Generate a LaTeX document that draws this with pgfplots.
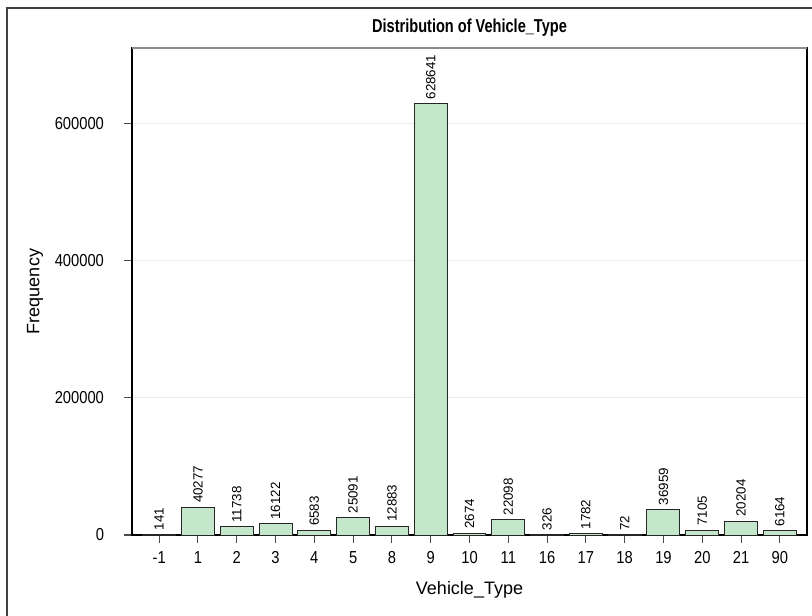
\documentclass[border=0pt]{standalone}
\usepackage{pgfplots}
\pgfplotsset{compat=1.18}
\usepackage{pgfplotstable}
\usepackage{fontspec}
\setmainfont{Liberation Sans}
\newfontfamily\titlefont[FakeStretch=0.78]{Liberation Sans}
\newfontfamily\tickfont[FakeStretch=0.85]{Liberation Sans}
\definecolor{barfill}{RGB}{196,230,202}
\definecolor{framecol}{RGB}{64,64,64}
\pgfplotstableread{
x y lab
0 141 141
1 40277 40277
2 11738 11738
3 16122 16122
4 6583 6583
5 25091 25091
6 12883 12883
7 628641 628641
8 2674 2674
9 22098 22098
10 326 326
11 1782 1782
12 72 72
13 36959 36959
14 7105 7105
15 20204 20204
16 6164 6164
}\datatable
\begin{document}
\begin{tikzpicture}
\useasboundingbox (0,0) rectangle (609pt,461.25pt);
\draw[framecol, line width=1.5pt] (5.6pt,-5pt) -- (5.6pt,455.6pt) -- (615pt,455.6pt);
\begin{axis}[
  at={(99pt,60pt)}, anchor=south west,
  scale only axis, width=506.25pt, height=365.25pt,
  xmin=-0.7, xmax=16.7, ymin=0, ymax=710000,
  clip=false,
  ybar, bar width=0.85,
  xtick={0,...,16},
  xticklabels={-1,1,2,3,4,5,8,9,10,11,16,17,18,19,20,21,90},
  ytick={0,200000,400000,600000},
  scaled y ticks=false,
  yticklabel style={/pgf/number format/fixed,/pgf/number format/1000 sep={}, xshift=-11.5pt},
  xticklabel style={yshift=-3pt},
  /pgf/number format/assume math mode=true,
  tick label style={font=\tickfont\fontsize{13}{15}\selectfont},
  tick pos=left, tick align=outside,
  major tick length=6pt,
  every tick/.style={black!70, line width=0.8pt},
  axis line style={black, line width=1.1pt},
  ymajorgrids, grid style={black!8, line width=0.6pt},
  title={\titlefont\bfseries\fontsize{14}{16}\selectfont Distribution of Vehicle\_Type},
  every axis title/.style={at={(axis description cs:0.5,1.042)}, anchor=center},
  xlabel={Vehicle\_Type},
  ylabel={Frequency},
  every axis x label/.style={at={(axis description cs:0.5,-0.113)}, anchor=center, font=\fontsize{13.5}{15}\selectfont},
  every axis y label/.style={at={(axis description cs:-0.1437,0.5)}, anchor=center, rotate=90, font=\fontsize{13.5}{15}\selectfont},
  nodes near coords,
  point meta=explicit symbolic,
  every node near coord/.append style={rotate=90, anchor=west, font=\fontsize{10}{11}\selectfont, inner sep=3pt, black},
]
\addplot[fill=barfill, draw=black!85, line width=0.75pt] table[x=x, y=y, meta=lab] {\datatable};
\draw[black!45, line width=0.8pt] (rel axis cs:0,1) -- (rel axis cs:1,1);
\end{axis}
\end{tikzpicture}
\end{document}
